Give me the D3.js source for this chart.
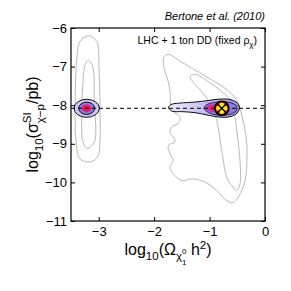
<!DOCTYPE html>
<html>
<head>
<meta charset="utf-8">
<script src="https://cdn.jsdelivr.net/npm/d3@7"></script>
<style>
  body { margin: 0; background: #fff; }
  text { font-family: "Liberation Sans", Arial, sans-serif; }
</style>
</head>
<body>
<svg id="chart"></svg>
<script>
// axis ticks
const xTicks = [-3, -2, -1, 0];
const yTicks = [-6, -7, -8, -9, -10, -11];
const dashedLevel = -8.08;

// grey contours (log10 Omega, log10 sigma)
const greyOuterLeft = [[-3.188, -6.20], [-3.036, -6.35], [-2.995, -7.00], [-2.977, -8.13], [-2.977, -8.91],
  [-3.018, -9.34], [-3.157, -9.47], [-3.338, -9.39], [-3.410, -8.91], [-3.422, -7.87], [-3.397, -6.83], [-3.338, -6.35]];
const greyInnerLeft = [[-3.188, -6.83], [-3.109, -7.00], [-3.080, -7.87], [-3.067, -8.91], [-3.139, -9.07],
  [-3.206, -9.12], [-3.283, -8.96], [-3.307, -8.30], [-3.289, -7.52], [-3.247, -6.96]];
const greyOuterRight = [[-1.817, -6.74], [-1.745, -6.68], [-1.564, -6.83], [-1.322, -7.04], [-1.028, -7.29],
  [-0.722, -7.56], [-0.511, -7.87], [-0.397, -8.39], [-0.330, -8.99], [-0.348, -9.86], [-0.420, -10.21],
  [-0.572, -10.52], [-0.691, -10.47], [-0.871, -10.21], [-1.082, -9.99], [-1.322, -9.91], [-1.503, -9.95],
  [-1.654, -9.78], [-1.714, -9.60], [-1.654, -9.43], [-1.714, -9.26], [-1.745, -9.04], [-1.624, -8.95],
  [-1.654, -8.82], [-1.714, -8.73], [-1.683, -8.56], [-1.564, -8.47], [-1.534, -8.30], [-1.678, -8.13],
  [-1.714, -7.65], [-1.745, -7.39], [-1.804, -7.13], [-1.835, -6.83]];
const greyInnerRight = [[-1.353, -7.26], [-1.263, -7.20], [-1.023, -7.39], [-0.781, -7.65], [-0.601, -7.91],
  [-0.541, -8.30], [-0.511, -8.65], [-0.451, -9.43], [-0.451, -10.04], [-0.511, -10.21], [-0.601, -10.08],
  [-0.691, -9.86], [-0.781, -9.17], [-0.871, -8.39], [-0.992, -7.95], [-1.142, -7.65], [-1.299, -7.40]];

// coloured posterior (LHC + 1 ton DD)
const blobRightOuter = [[-1.741, -8.068], [-1.696, -7.984], [-1.534, -7.945], [-1.263, -7.919], [-1.028, -7.880],
  [-0.812, -7.841], [-0.631, -7.854], [-0.505, -7.932], [-0.460, -8.062], [-0.505, -8.206], [-0.631, -8.297],
  [-0.812, -8.310], [-1.028, -8.258], [-1.263, -8.193], [-1.497, -8.167], [-1.678, -8.154]];
const blobRightInner = [[-1.101, -8.068], [-1.028, -7.971], [-0.848, -7.919], [-0.631, -7.932], [-0.514, -8.023],
  [-0.523, -8.154], [-0.668, -8.245], [-0.902, -8.245], [-1.046, -8.167]];
const rightPeak = [-0.938, -8.076];
const leftPeak = [-3.217, -8.08];
const leftLevels = [[0.229, 0.234], [0.144, 0.16], [0.09, 0.1], [0.06, 0.07]];
const truthPoint = [-0.78, -8.08];

const W = 291, H = 291;
const svg = d3.select("#chart").attr("width", W).attr("height", H);

const x = d3.scaleLinear().domain([-3.5, 0]).range([71, 265]);
const y = d3.scaleLinear().domain([-6, -11]).range([28, 221]);

const defs = svg.append("defs");
const grad = defs.append("linearGradient").attr("id", "tailGrad")
  .attr("x1", "0%").attr("x2", "100%").attr("y1", "0%").attr("y2", "0%");
grad.append("stop").attr("offset", "0%").attr("stop-color", "#eeebfb");
grad.append("stop").attr("offset", "55%").attr("stop-color", "#c4bbf1");
grad.append("stop").attr("offset", "100%").attr("stop-color", "#9d8fe6");

defs.append("clipPath").attr("id", "plotClip").append("rect")
  .attr("x", 71).attr("y", 28).attr("width", 194).attr("height", 193);

const plot = svg.append("g").attr("clip-path", "url(#plotClip)");

const line = d3.line()
  .x(d => x(d[0]))
  .y(d => y(d[1]))
  .curve(d3.curveCatmullRomClosed.alpha(0.5));

[greyOuterLeft, greyInnerLeft, greyOuterRight, greyInnerRight].forEach(c => {
  plot.append("path").attr("d", line(c))
    .attr("fill", "none").attr("stroke", "#b9b9b9").attr("stroke-width", 1);
});

function ell(g, c, r, fill, stroke) {
  g.append("ellipse")
    .attr("cx", x(c[0])).attr("cy", y(c[1]))
    .attr("rx", Math.abs(x(c[0] + r[0]) - x(c[0])))
    .attr("ry", Math.abs(y(c[1] + r[1]) - y(c[1])))
    .attr("fill", fill)
    .attr("stroke", stroke || "none").attr("stroke-width", 1);
}

// left peak
ell(plot, leftPeak, leftLevels[0], "#cdc6f3", "#111");
ell(plot, leftPeak, leftLevels[1], "#8a78dc", "#111");
ell(plot, leftPeak, leftLevels[2], "#d8249c");
ell(plot, leftPeak, leftLevels[3], "#f0143c");
ell(plot, leftPeak, [0.015, 0.018], "#5a1020");

// right peak
plot.append("path").attr("d", line(blobRightOuter))
  .attr("fill", "url(#tailGrad)").attr("stroke", "#111").attr("stroke-width", 1);
plot.append("path").attr("d", line(blobRightInner))
  .attr("fill", "#8c7ddf").attr("stroke", "#111").attr("stroke-width", 0.8);
ell(plot, rightPeak, [0.12, 0.1], "#d42aa6");
ell(plot, rightPeak, [0.06, 0.05], "#e8205c");

// dashed line
plot.append("line")
  .attr("x1", x(-3.5)).attr("x2", x(0))
  .attr("y1", y(dashedLevel)).attr("y2", y(dashedLevel))
  .attr("stroke", "#000").attr("stroke-width", 1)
  .attr("stroke-dasharray", "4,3");

// true value marker
const tx = x(truthPoint[0]), ty = y(truthPoint[1]), tr = 7;
const mk = svg.append("g");
mk.append("circle").attr("cx", tx).attr("cy", ty).attr("r", tr).attr("fill", "#e8262a");
[[0, -1], [1, 0], [0, 1], [-1, 0]].forEach(d => {
  mk.append("circle").attr("cx", tx + d[0] * 3.4).attr("cy", ty + d[1] * 3.4)
    .attr("r", 2.4).attr("fill", "#f8e81c");
});
const k = tr * Math.SQRT1_2;
mk.append("line").attr("x1", tx - k).attr("y1", ty - k).attr("x2", tx + k).attr("y2", ty + k)
  .attr("stroke", "#000").attr("stroke-width", 1.3);
mk.append("line").attr("x1", tx - k).attr("y1", ty + k).attr("x2", tx + k).attr("y2", ty - k)
  .attr("stroke", "#000").attr("stroke-width", 1.3);
mk.append("circle").attr("cx", tx).attr("cy", ty).attr("r", tr)
  .attr("fill", "none").attr("stroke", "#000").attr("stroke-width", 1.8);

// axes
const fmt = d3.format("d");
svg.append("g").attr("transform", "translate(0,221)")
  .call(d3.axisBottom(x).tickValues(xTicks).tickFormat(fmt).tickSize(-4).tickSizeOuter(0).tickPadding(6))
  .call(g => g.selectAll("text").style("font-size", "13px").attr("fill", "#000"));
svg.append("g").attr("transform", "translate(71,0)")
  .call(d3.axisLeft(y).tickValues(yTicks).tickFormat(fmt).tickSize(-4).tickSizeOuter(0).tickPadding(4))
  .call(g => g.selectAll("text").style("font-size", "13px").attr("fill", "#000"));
svg.append("g").attr("transform", "translate(0,28)")
  .call(d3.axisTop(x).tickValues(xTicks).tickFormat("").tickSize(-4).tickSizeOuter(0));
svg.append("g").attr("transform", "translate(265,0)")
  .call(d3.axisRight(y).tickValues(yTicks).tickFormat("").tickSize(-4).tickSizeOuter(0));
svg.selectAll(".domain").remove();
svg.selectAll(".tick line").attr("stroke", "#000");
svg.append("rect").attr("x", 71).attr("y", 28).attr("width", 194).attr("height", 193)
  .attr("fill", "none").attr("stroke", "#000").attr("stroke-width", 1.2);

// rich text helper: parts {t, dy, s (scale), back}
function rich(g, parts, fs) {
  let cx = 0, prevStart = 0, prevW = 0;
  parts.forEach(p => {
    const size = fs * (p.s || 1);
    const start = p.back ? prevStart : cx;
    const el = g.append("text").attr("x", start).attr("y", p.dy || 0)
      .style("font-size", size + "px").attr("fill", "#000").text(p.t);
    const w = el.node().getComputedTextLength();
    if (p.back) {
      cx = start + Math.max(prevW, w);
    } else {
      cx = start + w;
      prevStart = start; prevW = w;
    }
  });
  return cx;
}

// x title
const xt = svg.append("g");
const xw = rich(xt, [
  { t: "log" }, { t: "10", dy: 5, s: 0.72 }, { t: "(Ω" },
  { t: "χ", dy: 5, s: 0.72 }, { t: "0", dy: -1, s: 0.5 }, { t: "1", dy: 10, s: 0.5, back: true },
  { t: "\u00a0h" }, { t: "2", dy: -6, s: 0.72 }, { t: ")" }
], 16);
xt.attr("transform", `translate(${168 - xw / 2},255)`);

// y title
const yt = svg.append("g");
const yw = rich(yt, [
  { t: "log" }, { t: "10", dy: 5, s: 0.72 }, { t: "(σ" },
  { t: "SI", dy: -7, s: 0.72 }, { t: "χ−p", dy: 6, s: 0.72, back: true },
  { t: "/pb)" }
], 16);
yt.attr("transform", `translate(38,${124.5 + yw / 2}) rotate(-90)`);

// annotations
svg.append("text").attr("x", 265).attr("y", 20).attr("text-anchor", "end")
  .style("font-size", "11px").style("font-style", "italic").attr("fill", "#000")
  .text("Bertone et al. (2010)");

const lab = svg.append("g");
const lw = rich(lab, [
  { t: "LHC + 1 ton DD (fixed ρ" }, { t: "χ", dy: 3, s: 0.75 }, { t: ")" }
], 10.5);
lab.attr("transform", `translate(${257 - lw},44)`);
</script>
</body>
</html>
